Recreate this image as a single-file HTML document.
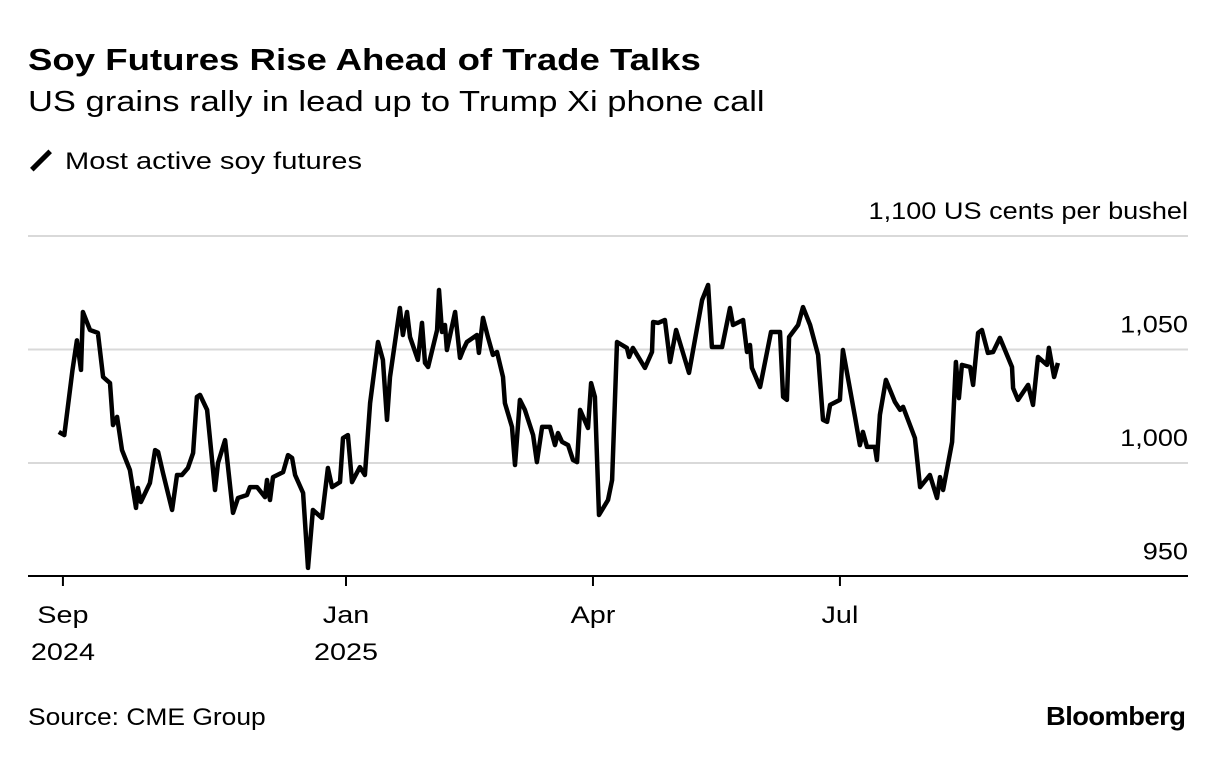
<!DOCTYPE html>
<html><head><meta charset="utf-8"><style>
body{margin:0;background:#fff;font-family:"Liberation Sans",Arial,sans-serif;color:#000}
.t{position:absolute;white-space:nowrap;transform-origin:left center}
</style></head><body>
<div style="position:relative;width:1223px;height:760px;overflow:hidden">
<div class="t" style="left:28px;top:42px;font-size:31px;font-weight:bold;transform:scaleX(1.18)">Soy Futures Rise Ahead of Trade Talks</div>
<div class="t" style="left:28px;top:86px;font-size:29px;transform:scaleX(1.19)">US grains rally in lead up to Trump Xi phone call</div>
<div class="t" style="left:28px;top:148px;font-size:24px"><span style="display:inline-block;width:26px;height:5px;background:#000;transform:rotate(-45deg);vertical-align:middle;margin:0 8px 4px 0"></span><span style="display:inline-block;transform:scaleX(1.21);transform-origin:left center;margin-left:3px">Most active soy futures</span></div>
<svg width="1223" height="760" style="position:absolute;left:0;top:0" id="svg"></svg>
<div class="t" style="left:28px;top:704px;font-size:24px;transform:scaleX(1.1)">Source: CME Group</div>
<div class="t" style="left:1046px;top:701px;font-size:26px;font-weight:bold;letter-spacing:-0.5px;transform:scaleX(1.05)">Bloomberg</div>
</div>
<script>
const days=[-105,-103,-100,-98.4,-96.9,-96.2,-93.6,-90.7,-88.8,-86.3,-85.2,-83.7,-81.9,-79,-76.8,-76.1,-75,-71.7,-69.8,-68.7,-66.9,-63.6,-61.8,-60,-57.8,-55.9,-54.5,-53.4,-50.8,-49.7,-47.9,-46.8,-44.2,-41.3,-39.5,-36.2,-35.1,-32.5,-29.6,-28.9,-27.8,-26.7,-23,-21.2,-19.7,-18.6,-15.7,-13.9,-12.1,-8.8,-6.6,-5.1,-2.2,-1.1,0.7,2.2,5.1,6.9,8.8,11.7,13.5,15,16.1,19.7,20.8,22.3,23.4,26.3,27.8,28.9,30,33.3,34,35.1,36.2,36.9,39.9,41.7,42.8,44.2,47.9,48.6,50.1,51.9,53.7,55.2,57.4,58.1,60.7,61.8,63.6,65.4,68.4,69.8,71.7,74.6,76.4,77.5,79,81.2,83,84.5,85.6,88.5,89.6,91,92.5,95.8,97.3,99.1,102.7,103.5,104.9,109.3,111.9,112.3,114.1,116.6,118.5,120.7,125.4,130.2,132.4,133.8,137.5,140.4,141.5,145.2,146.6,147.7,148.4,151.4,155.4,158.7,159.8,161.2,162,165.3,167.1,169.7,172.6,174.4,175.9,177,180.6,181.7,186.1,187.9,189,190.5,193.4,194.1,195.2,197.4,200.7,202.6,203.7,208,209.9,213.5,216.1,217.2,218.3,221.6,223,224.1,225.2,228.2,229.3,231.1,232.5,234.7,236.6,239.1,243.5,243.9,245.7,249.4,251.2,253,256.3,257,258.9,260.3];
const prices=[1013.7,1012.3,1041,1054,1041,1066.5,1058.6,1057.3,1037.9,1035.2,1016.7,1020.3,1005.7,996.9,980.2,989,982.8,991.2,1005.7,1004.9,995.6,979.3,994.7,994.7,997.8,1004.4,1029.1,1030,1023.4,1010.1,988.1,1000,1010.1,978,984.6,985.9,989.4,989.4,985,992.5,983.7,993.8,996,1003.5,1002.2,994.7,986.8,953.8,979.3,975.8,997.8,989.4,991.6,1011,1012.3,991.6,998.2,994.7,1026.4,1053.3,1045.4,1019,1037.9,1068.3,1056.4,1066.5,1055.5,1045.4,1061.7,1044.1,1042.3,1058.6,1076.2,1057.7,1060.8,1049.8,1066.5,1046.3,1049.8,1053.3,1056.4,1048.5,1063.9,1055.5,1047.6,1048.9,1037.9,1026.4,1015.9,999.1,1027.8,1023.4,1012.3,1000.4,1015.9,1015.9,1007.9,1013.2,1009.3,1007.9,1001.3,1000.4,1023.4,1015.4,1035.2,1029.1,977.1,983.7,992.5,1053.3,1050.7,1046.7,1050.7,1041.9,1048.9,1062.1,1061.7,1063,1044.5,1058.6,1039.7,1071.8,1078.4,1051.1,1051.1,1068.3,1060.8,1063,1048.9,1052,1041.9,1033.5,1057.7,1057.7,1029.1,1027.8,1055.5,1060.8,1068.7,1060.8,1047.6,1019,1018.1,1025.6,1027.8,1049.8,1020.3,1007.9,1013.7,1007.1,1007.1,1001.3,1021.2,1036.6,1026.9,1023.4,1024.7,1011,989.4,994.7,984.6,993.8,988.1,1009.3,1044.5,1028.6,1043.2,1042.3,1034.4,1057.3,1058.6,1048.5,1048.9,1055.1,1042.3,1033,1027.8,1034.4,1025.6,1046.7,1043.2,1050.7,1037.9,1044.1];
const yTicks=[950,1000,1050,1100];
const yTickLabels=["950","1,000","1,050","1,100 US cents per bushel"];
const xTickDays=[-103.5,0,90.3,180.6];
const xTickLabels=[["Sep","2024"],["Jan","2025"],["Apr",""],["Jul",""]];
const NS="http://www.w3.org/2000/svg",svg=document.getElementById('svg');
const X=d=>346+d*2.735, Y=v=>236+(1100-v)*2.27;
function el(t,a){const e=document.createElementNS(NS,t);for(const k in a)e.setAttribute(k,a[k]);svg.appendChild(e);return e;}
yTicks.forEach((v,i)=>{
  if(v>950){const g=el('line',{x1:28,x2:1188,y1:Y(v),y2:Y(v),stroke:'#d9d9d9','stroke-width':2});
  
  }
  const t=el('text',{x:0,y:0,'text-anchor':'end','font-size':24,'font-family':'Liberation Sans, sans-serif',transform:`translate(1188,${Y(v)-17}) scale(1.13,1)`});
  t.textContent=yTickLabels[i];
  
  
});
const ax=el('line',{x1:28,x2:1188,y1:576,y2:576,stroke:'#000','stroke-width':2});


xTickDays.forEach((d,i)=>{
  const tk=el('line',{x1:X(d),x2:X(d),y1:576,y2:586,stroke:'#000','stroke-width':2});
  
  
  xTickLabels[i].forEach((s,j)=>{
    if(!s)return;
    const t=el('text',{x:0,y:0,'text-anchor':'middle','font-size':24,'font-family':'Liberation Sans, sans-serif',transform:`translate(${X(d)},${623+j*37}) scale(1.2,1)`});
    t.textContent=s;
    
    
  });
});
const p=el('path',{d:days.map((d,i)=>(i?'L':'M')+X(d).toFixed(1)+','+Y(prices[i]).toFixed(1)).join(''),fill:'none',stroke:'#000','stroke-width':4.5,'stroke-linejoin':'round'});


</script>
</body></html>
